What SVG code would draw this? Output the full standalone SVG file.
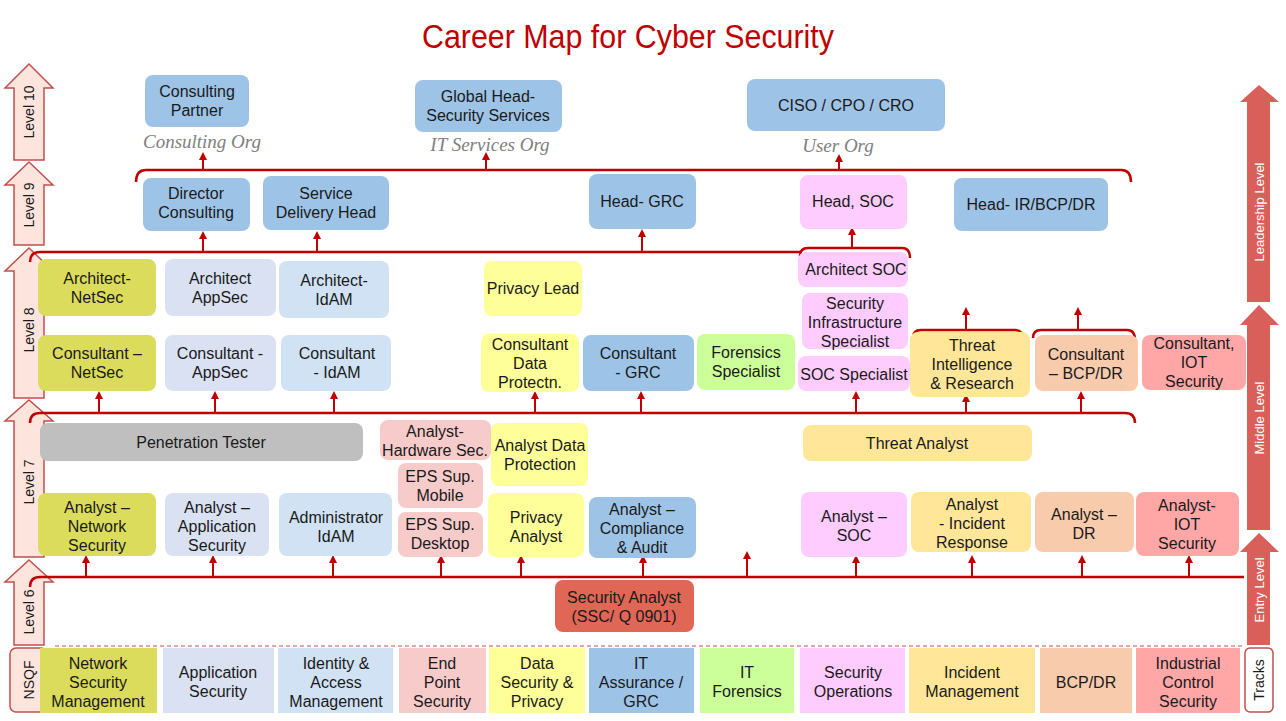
<svg xmlns="http://www.w3.org/2000/svg" width="1286" height="721" viewBox="0 0 1286 721">
<defs>
<marker id="ah" viewBox="0 0 10 10" refX="5" refY="5" markerWidth="4" markerHeight="4" orient="auto"><path d="M0,0 L10,5 L0,10 z" fill="#c00000"/></marker>
<style>
text{font-family:"Liberation Sans",Arial,sans-serif;font-size:16px;fill:#1a1a1a;text-anchor:middle}
.n rect{rx:8}
.br{fill:none;stroke:#c00000;stroke-width:2.5}
.ar{stroke:#c00000;stroke-width:2;marker-end:url(#ah)}
.lv{fill:#fde4dc;stroke:#c0504d;stroke-width:1.5}
.rv{fill:#d9605a}
.lvt{font-size:14px}
.rvt{font-size:13px;fill:#fff}
.org{font-family:"Liberation Serif",serif;font-style:italic;font-size:19px;fill:#808080}
.b{fill:#9dc3e6}.ns{fill:#dcdc5c}.as{fill:#d9e1f2}.id{fill:#d0e2f4}.ep{fill:#f8cbcb}.dp{fill:#ffff99}.fo{fill:#ccff99}.so{fill:#ffccff}.ir{fill:#ffe699}.bc{fill:#f8cbad}.ic{fill:#ffa7a7}.gy{fill:#bfbfbf}.sa{fill:#e06656}
</style>
</defs>
<rect width="1286" height="721" fill="#fff"/>
<text x="628" y="48" textLength="412" lengthAdjust="spacingAndGlyphs" style="font-family:'Liberation Sans',sans-serif;font-size:34px;fill:#c00000">Career Map for Cyber Security</text>

<g id="levels">
<path class="lv" d="M14,160 V88 H5 L29,64 L53,88 H44 V160 Z"/>
<path class="lv" d="M14,245 V185 H5 L29,162 L53,185 H44 V245 Z"/>
<path class="lv" d="M14,398 V271 H5 L29,248 L53,271 H44 V398 Z"/>
<path class="lv" d="M14,557 V421 H5 L29,400 L53,421 H44 V557 Z"/>
<path class="lv" d="M14,645 V582 H5 L29,560 L53,582 H44 V645 Z"/>
<rect x="10" y="648" width="37" height="64" rx="6" class="lv" fill="#fff"/>
<text class="lvt" transform="translate(34,112) rotate(-90)">Level 10</text>
<text class="lvt" transform="translate(34,205) rotate(-90)">Level 9</text>
<text class="lvt" transform="translate(34,330) rotate(-90)">Level 8</text>
<text class="lvt" transform="translate(34,482) rotate(-90)">Level 7</text>
<text class="lvt" transform="translate(34,612) rotate(-90)">Level 6</text>
<text class="lvt" transform="translate(34,680) rotate(-90)">NSQF</text>
<path class="rv" d="M1247,302 V102 H1240 L1259,85 L1279,102 H1270 V302 Z"/>
<path class="rv" d="M1247,530 V325 H1240 L1259,305 L1279,325 H1270 V530 Z"/>
<path class="rv" d="M1247,645 V552 H1240 L1259,533 L1279,552 H1270 V645 Z"/>
<rect x="1245" y="648" width="28" height="64" rx="5" fill="#fff" stroke="#c0504d" stroke-width="1.5"/>
<text class="rvt" transform="translate(1264,212) rotate(-90)">Leadership Level</text>
<text class="rvt" transform="translate(1264,418) rotate(-90)">Middle Level</text>
<text class="rvt" transform="translate(1264,590) rotate(-90)">Entry Level</text>
<text class="lvt" transform="translate(1264,680) rotate(-90)">Tracks</text>
</g>

<g id="connectors">
<path class="br" d="M136,182 Q136,170 146,170 H1121 Q1131,170 1131,182"/>
<line class="ar" x1="203" y1="170" x2="203" y2="156"/>
<line class="ar" x1="486" y1="170" x2="486" y2="156"/>
<line class="ar" x1="839" y1="170" x2="839" y2="158"/>
<path class="br" d="M30,262 Q30,252 40,252 H800"/>
<line class="ar" x1="203" y1="252" x2="203" y2="235"/>
<line class="ar" x1="317" y1="252" x2="317" y2="235"/>
<line class="ar" x1="642" y1="252" x2="642" y2="233"/>
<path class="br" d="M800,256 Q800,248 808,248 H902 Q910,248 910,258"/>
<line class="ar" x1="852" y1="248" x2="852" y2="231"/>
<path class="br" d="M913,338 Q913,330 921,330 H1015 Q1023,330 1023,340"/>
<line class="ar" x1="966" y1="330" x2="966" y2="311"/>
<path class="br" d="M1033,338 Q1033,330 1041,330 H1127 Q1135,330 1135,340"/>
<line class="ar" x1="1078" y1="330" x2="1078" y2="311"/>
<path class="br" d="M30,423 Q30,413 40,413 H1125 Q1135,413 1135,423"/>
<g>
<line class="ar" x1="99" y1="413" x2="99" y2="395"/>
<line class="ar" x1="215" y1="413" x2="215" y2="395"/>
<line class="ar" x1="334" y1="413" x2="334" y2="395"/>
<line class="ar" x1="535" y1="413" x2="535" y2="395"/>
<line class="ar" x1="641" y1="413" x2="641" y2="395"/>
<line class="ar" x1="856" y1="413" x2="856" y2="395"/>
<line class="ar" x1="966" y1="413" x2="966" y2="398"/>
<line class="ar" x1="1081" y1="413" x2="1081" y2="395"/>
</g>
<path class="br" d="M30,587 Q30,577 40,577 H1244"/>
<g>
<line class="ar" x1="86" y1="577" x2="86" y2="559"/>
<line class="ar" x1="213" y1="577" x2="213" y2="559"/>
<line class="ar" x1="333" y1="577" x2="333" y2="559"/>
<line class="ar" x1="441" y1="577" x2="441" y2="559"/>
<line class="ar" x1="521" y1="577" x2="521" y2="559"/>
<line class="ar" x1="643" y1="577" x2="643" y2="559"/>
<line class="ar" x1="747" y1="577" x2="747" y2="555"/>
<line class="ar" x1="856" y1="577" x2="856" y2="559"/>
<line class="ar" x1="972" y1="577" x2="972" y2="559"/>
<line class="ar" x1="1082" y1="577" x2="1082" y2="559"/>
<line class="ar" x1="1189" y1="577" x2="1189" y2="559"/>
</g>
<line x1="55" y1="646" x2="1245" y2="646" stroke="#c0504d" stroke-width="1" stroke-dasharray="4,3"/>
</g>

<text class="org" x="202" y="148">Consulting Org</text>
<text class="org" x="490" y="151">IT Services Org</text>
<text class="org" x="838" y="152">User Org</text>

<g id="l10">
<g id="consulting-partner" class="n"><rect class="b" x="145" y="75" width="104" height="52"/><text x="197" y="97">Consulting</text><text x="197" y="116">Partner</text></g>
<g id="global-head" class="n"><rect class="b" x="415" y="80" width="147" height="52"/><text x="488" y="102">Global Head-</text><text x="488" y="121">Security Services</text></g>
<g id="ciso" class="n"><rect class="b" x="747" y="79" width="198" height="52"/><text x="846" y="111">CISO / CPO / CRO</text></g>
</g>
<g id="l9">
<g id="director" class="n"><rect class="b" x="143" y="178" width="107" height="53"/><text x="196" y="199">Director</text><text x="196" y="218">Consulting</text></g>
<g id="sdh" class="n"><rect class="b" x="263" y="176" width="126" height="54"/><text x="326" y="199">Service</text><text x="326" y="218">Delivery Head</text></g>
<g id="head-grc" class="n"><rect class="b" x="589" y="174" width="107" height="55"/><text x="642" y="207">Head- GRC</text></g>
<g id="head-soc" class="n"><rect class="so" x="800" y="175" width="107" height="54"/><text x="853" y="207">Head, SOC</text></g>
<g id="head-ir" class="n"><rect class="b" x="954" y="178" width="154" height="53"/><text x="1031" y="210">Head- IR/BCP/DR</text></g>
</g>
<g id="l8">
<g id="arch-netsec" class="n"><rect class="ns" x="38" y="259" width="118" height="57"/><text x="97" y="284">Architect-</text><text x="97" y="303">NetSec</text></g>
<g id="arch-appsec" class="n"><rect class="as" x="165" y="259" width="111" height="57"/><text x="220" y="284">Architect</text><text x="220" y="303">AppSec</text></g>
<g id="arch-idam" class="n"><rect class="id" x="279" y="261" width="110" height="57"/><text x="334" y="286">Architect-</text><text x="334" y="305">IdAM</text></g>
<g id="privacy-lead" class="n"><rect class="dp" x="484" y="261" width="98" height="55"/><text x="533" y="294">Privacy Lead</text></g>
<g id="arch-soc" class="n"><rect class="so" x="798" y="252" width="110" height="35"/><text x="856" y="275">Architect SOC</text></g>
<g id="sec-infra" class="n"><rect class="so" x="802" y="293" width="106" height="56"/><text x="855" y="309">Security</text><text x="855" y="328">Infrastructure</text><text x="855" y="347">Specialist</text></g>
<g id="soc-spec" class="n"><rect class="so" x="798" y="356" width="112" height="35"/><text x="854" y="380">SOC Specialist</text></g>
<g id="cons-netsec" class="n"><rect class="ns" x="38" y="335" width="118" height="56"/><text x="97" y="359">Consultant  –</text><text x="97" y="378">NetSec</text></g>
<g id="cons-appsec" class="n"><rect class="as" x="165" y="335" width="111" height="56"/><text x="220" y="359">Consultant  -</text><text x="220" y="378">AppSec</text></g>
<g id="cons-idam" class="n"><rect class="id" x="281" y="335" width="110" height="56"/><text x="337" y="359">Consultant</text><text x="337" y="378">- IdAM</text></g>
<g id="cons-dp" class="n"><rect class="dp" x="481" y="334" width="98" height="58"/><text x="530" y="350">Consultant</text><text x="530" y="369">Data</text><text x="530" y="388">Protectn.</text></g>
<g id="cons-grc" class="n"><rect class="b" x="583" y="335" width="111" height="56"/><text x="638" y="359">Consultant</text><text x="638" y="378">- GRC</text></g>
<g id="forensics" class="n"><rect class="fo" x="697" y="334" width="98" height="56"/><text x="746" y="358">Forensics</text><text x="746" y="377">Specialist</text></g>
<g id="threat-intel" class="n"><rect class="ir" x="910" y="332" width="120" height="65"/><text x="972" y="351">Threat</text><text x="972" y="370">Intelligence</text><text x="972" y="389">&amp; Research</text></g>
<g id="cons-bcp" class="n"><rect class="bc" x="1035" y="335" width="103" height="56"/><text x="1086" y="360">Consultant</text><text x="1086" y="379">– BCP/DR</text></g>
<g id="cons-iot" class="n"><rect class="ic" x="1142" y="335" width="104" height="55"/><text x="1194" y="349">Consultant,</text><text x="1194" y="368">IOT</text><text x="1194" y="387">Security</text></g>
</g>
<g id="l7">
<g id="pentest" class="n"><rect class="gy" x="40" y="423" width="323" height="38"/><text x="201" y="448">Penetration Tester</text></g>
<g id="hw-sec" class="n"><rect class="ep" x="380" y="420" width="111" height="40"/><text x="435" y="437">Analyst-</text><text x="435" y="456">Hardware Sec.</text></g>
<g id="an-dp" class="n"><rect class="dp" x="491" y="423" width="97" height="63"/><text x="540" y="451">Analyst Data</text><text x="540" y="470">Protection</text></g>
<g id="eps-mobile" class="n"><rect class="ep" x="398" y="463" width="85" height="45"/><text x="440" y="482">EPS Sup.</text><text x="440" y="501">Mobile</text></g>
<g id="eps-desktop" class="n"><rect class="ep" x="398" y="512" width="85" height="45"/><text x="440" y="530">EPS Sup.</text><text x="440" y="549">Desktop</text></g>
<g id="threat-analyst" class="n"><rect class="ir" x="803" y="425" width="229" height="36"/><text x="917" y="449">Threat Analyst</text></g>
<g id="an-net" class="n"><rect class="ns" x="38" y="493" width="118" height="63"/><text x="97" y="513">Analyst  –</text><text x="97" y="532">Network</text><text x="97" y="551">Security</text></g>
<g id="an-app" class="n"><rect class="as" x="165" y="493" width="104" height="63"/><text x="217" y="513">Analyst  –</text><text x="217" y="532">Application</text><text x="217" y="551">Security</text></g>
<g id="admin-idam" class="n"><rect class="id" x="279" y="493" width="113" height="63"/><text x="336" y="523">Administrator</text><text x="336" y="542">IdAM</text></g>
<g id="privacy-an" class="n"><rect class="dp" x="488" y="493" width="96" height="64"/><text x="536" y="523">Privacy</text><text x="536" y="542">Analyst</text></g>
<g id="an-comp" class="n"><rect class="b" x="589" y="497" width="107" height="61"/><text x="642" y="515">Analyst –</text><text x="642" y="534">Compliance</text><text x="642" y="553">&amp; Audit</text></g>
<g id="an-soc" class="n"><rect class="so" x="801" y="492" width="106" height="65"/><text x="854" y="522">Analyst  –</text><text x="854" y="541">SOC</text></g>
<g id="an-ir" class="n"><rect class="ir" x="911" y="492" width="120" height="60"/><text x="972" y="510">Analyst</text><text x="972" y="529">- Incident</text><text x="972" y="548">Response</text></g>
<g id="an-dr" class="n"><rect class="bc" x="1035" y="492" width="99" height="60"/><text x="1084" y="520">Analyst  –</text><text x="1084" y="539">DR</text></g>
<g id="an-iot" class="n"><rect class="ic" x="1136" y="492" width="103" height="64"/><text x="1187" y="511">Analyst-</text><text x="1187" y="530">IOT</text><text x="1187" y="549">Security</text></g>
</g>
<g id="l6">
<g id="sec-analyst" class="n"><rect class="sa" x="555" y="580" width="139" height="52"/><text x="624" y="603">Security Analyst</text><text x="624" y="622">(SSC/ Q 0901)</text></g>
</g>
<g id="tracks">
<g id="t-net"><rect class="ns" x="40" y="648" width="117" height="65"/><text x="98" y="669">Network</text><text x="98" y="688">Security</text><text x="98" y="707">Management</text></g>
<g id="t-app"><rect class="as" x="163" y="648" width="111" height="65"/><text x="218" y="678">Application</text><text x="218" y="697">Security</text></g>
<g id="t-id"><rect class="id" x="278" y="648" width="115" height="65"/><text x="336" y="669">Identity  &amp;</text><text x="336" y="688">Access</text><text x="336" y="707">Management</text></g>
<g id="t-ep"><rect class="ep" x="399" y="648" width="87" height="65"/><text x="442" y="669">End</text><text x="442" y="688">Point</text><text x="442" y="707">Security</text></g>
<g id="t-dp"><rect class="dp" x="489" y="648" width="96" height="65"/><text x="537" y="669">Data</text><text x="537" y="688">Security &amp;</text><text x="537" y="707">Privacy</text></g>
<g id="t-grc"><rect class="b" x="589" y="648" width="105" height="65"/><text x="641" y="669">IT</text><text x="641" y="688">Assurance /</text><text x="641" y="707">GRC</text></g>
<g id="t-for"><rect class="fo" x="700" y="648" width="94" height="65"/><text x="747" y="678">IT</text><text x="747" y="697">Forensics</text></g>
<g id="t-soc"><rect class="so" x="800" y="648" width="105" height="65"/><text x="853" y="678">Security</text><text x="853" y="697">Operations</text></g>
<g id="t-ir"><rect class="ir" x="909" y="648" width="126" height="65"/><text x="972" y="678">Incident</text><text x="972" y="697">Management</text></g>
<g id="t-bcp"><rect class="bc" x="1040" y="648" width="92" height="65"/><text x="1086" y="688">BCP/DR</text></g>
<g id="t-ics"><rect class="ic" x="1136" y="648" width="104" height="65"/><text x="1188" y="669">Industrial</text><text x="1188" y="688">Control</text><text x="1188" y="707">Security</text></g>
</g>
</svg>
